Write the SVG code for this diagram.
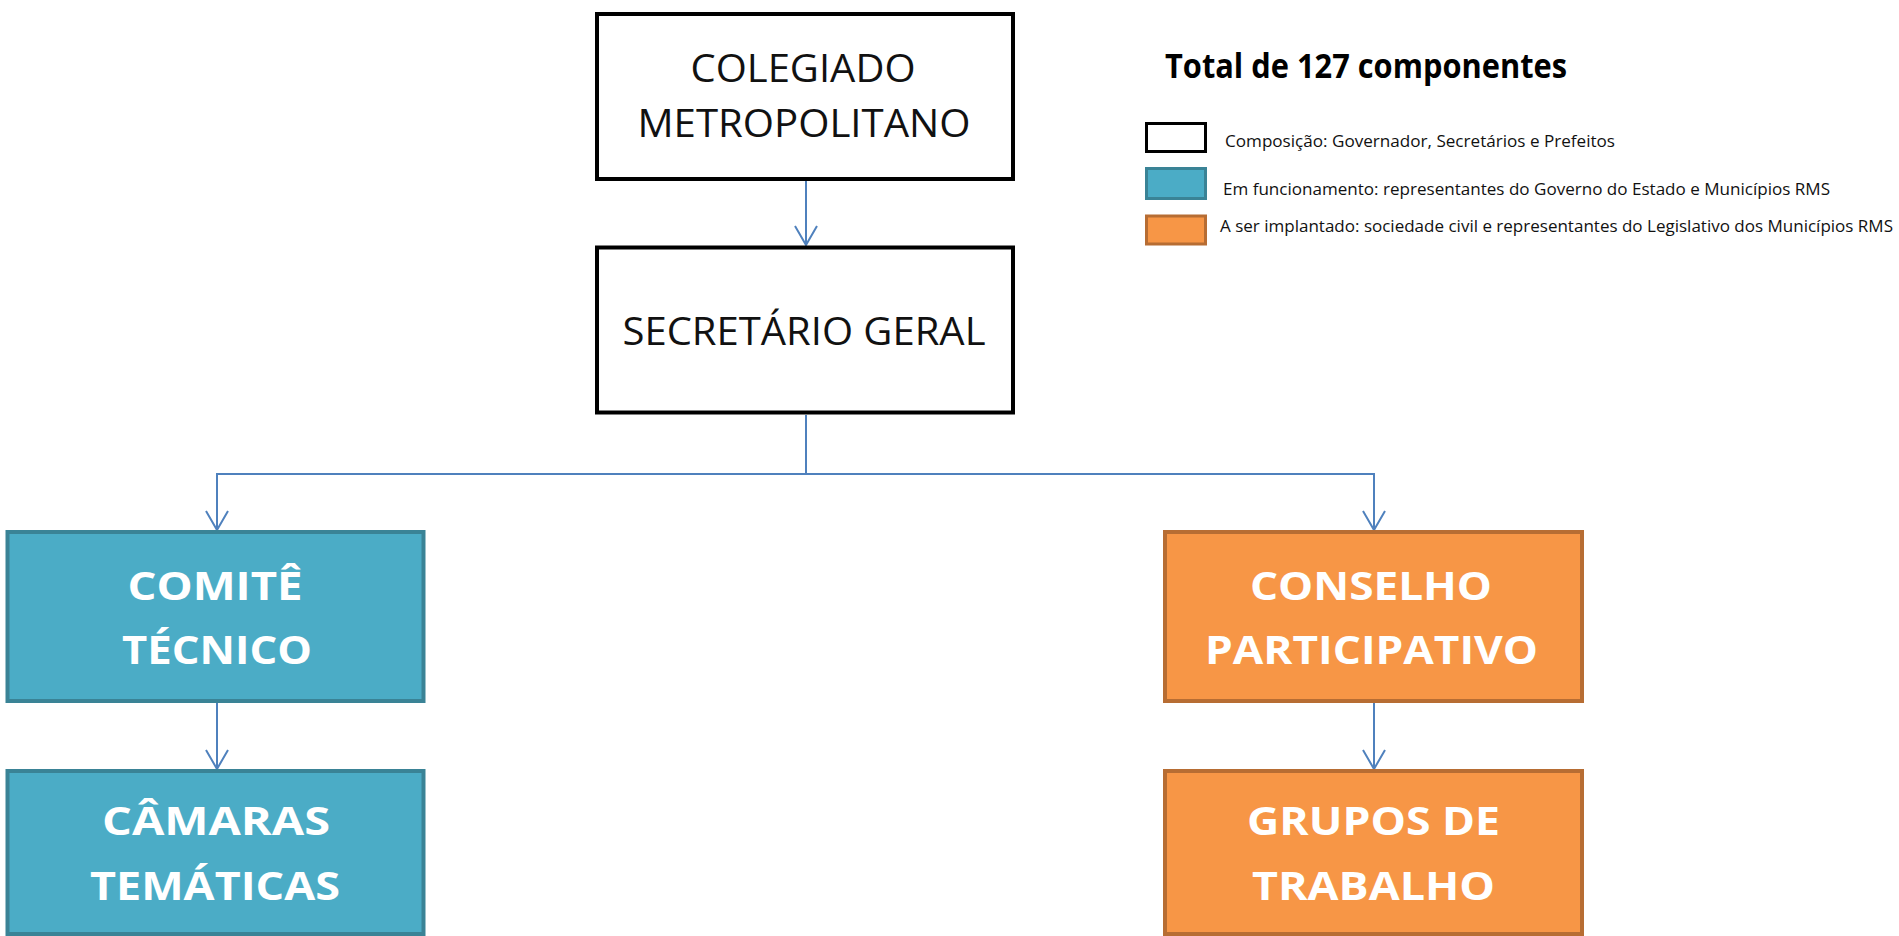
<svg xmlns="http://www.w3.org/2000/svg" width="1899" height="936" viewBox="0 0 1899 936">
<style>
.wbox{fill:#ffffff;stroke:#000000;stroke-width:4}
.tbox{fill:#4BACC6;stroke:#3A8396;stroke-width:4}
.obox{fill:#F79646;stroke:#B76D33;stroke-width:4}
.blk{font-family:"Open Sans","Liberation Sans",sans-serif;font-size:38px;fill:#111111;text-anchor:middle}
.wht{font-family:"Open Sans","Liberation Sans",sans-serif;font-size:40px;font-weight:bold;fill:#ffffff;text-anchor:middle}
.leg{font-family:"Open Sans","Liberation Sans",sans-serif;font-size:16.5px;fill:#111111}
.ttl{font-family:"Open Sans","Liberation Sans",sans-serif;font-size:34px;font-weight:bold;fill:#000000}
.con{fill:none;stroke:#4F81BD;stroke-width:2}
</style>
<defs>
<marker id="arr" markerUnits="userSpaceOnUse" viewBox="-22 -14 24 28" markerWidth="24" markerHeight="28" refX="0" refY="0" orient="auto">
<path d="M-19,-11 L0,0 L-19,11" fill="none" stroke="#4F81BD" stroke-width="2"/>
</marker>
</defs>
<g id="connectors">
<line class="con" x1="806" y1="181" x2="806" y2="245" marker-end="url(#arr)"/>
<polyline class="con" points="806,415 806,474 217,474 217,530" marker-end="url(#arr)"/>
<polyline class="con" points="806,474 1374,474 1374,530" marker-end="url(#arr)"/>
<line class="con" x1="217" y1="703" x2="217" y2="769" marker-end="url(#arr)"/>
<line class="con" x1="1374" y1="703" x2="1374" y2="769" marker-end="url(#arr)"/>
</g>
<g id="colegiado">
<rect class="wbox" x="597" y="14" width="416" height="165"/>
<text class="blk" x="803" y="82" textLength="225" lengthAdjust="spacingAndGlyphs">COLEGIADO</text>
<text class="blk" x="804" y="137" textLength="333" lengthAdjust="spacingAndGlyphs">METROPOLITANO</text>
</g>
<g id="secretario">
<rect class="wbox" x="597" y="247.5" width="416" height="165"/>
<text class="blk" x="804" y="345" textLength="363" lengthAdjust="spacingAndGlyphs">SECRETÁRIO GERAL</text>
</g>
<g id="comite">
<rect class="tbox" x="7.5" y="532" width="416" height="169"/>
<text class="wht" x="215" y="600" textLength="175" lengthAdjust="spacingAndGlyphs">COMITÊ</text>
<text class="wht" x="217" y="664" textLength="190" lengthAdjust="spacingAndGlyphs">TÉCNICO</text>
</g>
<g id="camaras">
<rect class="tbox" x="7.5" y="771" width="416" height="163"/>
<text class="wht" x="216" y="835" textLength="228" lengthAdjust="spacingAndGlyphs">CÂMARAS</text>
<text class="wht" x="215" y="900" textLength="250" lengthAdjust="spacingAndGlyphs">TEMÁTICAS</text>
</g>
<g id="conselho">
<rect class="obox" x="1165" y="532" width="417" height="169"/>
<text class="wht" x="1371" y="600" textLength="242" lengthAdjust="spacingAndGlyphs">CONSELHO</text>
<text class="wht" x="1371.5" y="664" textLength="333" lengthAdjust="spacingAndGlyphs">PARTICIPATIVO</text>
</g>
<g id="grupos">
<rect class="obox" x="1165" y="771" width="417" height="163"/>
<text class="wht" x="1373.5" y="835" textLength="253" lengthAdjust="spacingAndGlyphs">GRUPOS DE</text>
<text class="wht" x="1373.5" y="900" textLength="243" lengthAdjust="spacingAndGlyphs">TRABALHO</text>
</g>
<g id="legend">
<text class="ttl" x="1165" y="78" textLength="402" lengthAdjust="spacingAndGlyphs">Total de 127 componentes</text>
<rect x="1146.5" y="123.5" width="59" height="28" fill="#ffffff" stroke="#000000" stroke-width="3"/>
<text class="leg" x="1225" y="147" textLength="390" lengthAdjust="spacingAndGlyphs">Composição: Governador, Secretários e Prefeitos</text>
<rect x="1146.5" y="168.5" width="59" height="30" fill="#4BACC6" stroke="#3A8396" stroke-width="3"/>
<text class="leg" x="1223" y="195" textLength="607" lengthAdjust="spacingAndGlyphs">Em funcionamento: representantes do Governo do Estado e Municípios RMS</text>
<rect x="1146.5" y="216" width="59" height="28" fill="#F79646" stroke="#B76D33" stroke-width="3"/>
<text class="leg" x="1220" y="232" textLength="673" lengthAdjust="spacingAndGlyphs">A ser implantado: sociedade civil e representantes do Legislativo dos Municípios RMS</text>
</g>
</svg>
